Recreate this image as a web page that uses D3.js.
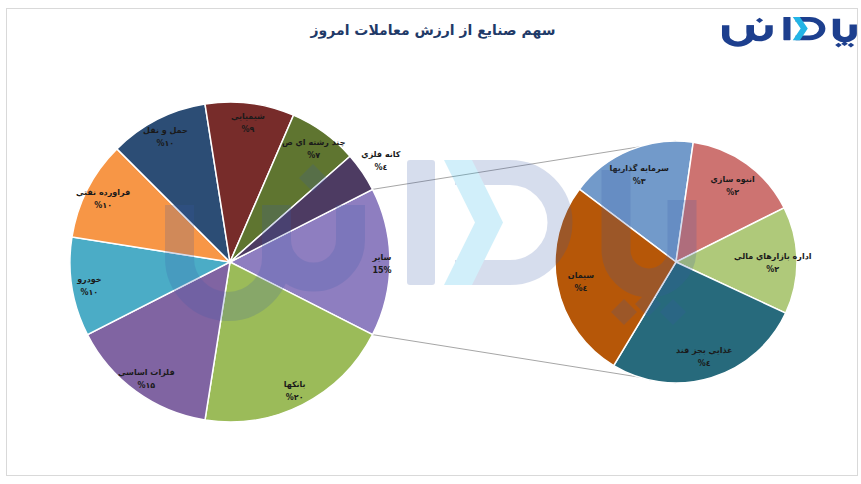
<!DOCTYPE html>
<html><head><meta charset="utf-8">
<script src="https://cdn.jsdelivr.net/npm/d3@7"></script>
<style>html,body{margin:0;padding:0;background:#fff;}svg{display:block;}</style>
</head><body>
<svg id="chart" width="861" height="484"></svg>
<script>
const title = "سهم صنایع از ارزش معاملات امروز";
const leftCategories = ["سایر","بانکها","فلزات اساسي","خودرو","فراورده نفتي","حمل و نقل","شيميايي","چند رشته اي ص","کانه فلزي"];
const leftValues = [15,20,15,10,10,10,9,7,4];
const leftLabels = ["15%","%۲۰","%۱۵","%۱۰","%۱۰","%۱۰","%۹","%۷","%٤"];
const leftColors = ["#8E7EC0","#9BBB59","#8064A2","#4BACC6","#F79646","#2C4D75","#772C2A","#5F7530","#4D3B62"];
const rightCategories = ["سرمايه گذاريها","انبوه سازي","اداره بازارهاي مالي","غذايي بجز قند","سيمان"];
const rightValues = [2.55,2.3,2.15,4.0,4.0];
const rightLabels = ["%۳","%۲","%۲","%٤","%٤"];
const rightColors = ["#729ACA","#CD7371","#AFC97A","#276A7C","#B65708"];

const svg = d3.select("#chart");
const FONT = "'DejaVu Sans', sans-serif";

svg.append("rect").attr("x",6.5).attr("y",8.5).attr("width",851).attr("height",467)
  .attr("fill","#fff").attr("stroke","#d9d9d9").attr("stroke-width",1);

svg.append("text").attr("x",433).attr("y",35).attr("text-anchor","middle")
  .attr("font-family",FONT).attr("font-weight","bold").attr("font-size",14)
  .attr("fill","#1F3A68").text(title);

const L = {cx:230, cy:262, r:160};
const R = {cx:676, cy:262, r:121};
const sumL = d3.sum(leftValues);
const a0 = Math.PI/2 - Math.PI*leftValues[0]/sumL;
const pieL = d3.pie().sort(null).value(d=>d).startAngle(a0).endAngle(a0+2*Math.PI);
const arcsL = pieL(leftValues);
const arcL = d3.arc().innerRadius(0).outerRadius(L.r);

const rot = -53*Math.PI/180;
const pieR = d3.pie().sort(null).value(d=>d).startAngle(rot).endAngle(rot+2*Math.PI);
const arcsR = pieR(rightValues);
const arcR = d3.arc().innerRadius(0).outerRadius(R.r);

const o = arcsL[0];
const p1 = [L.cx + L.r*Math.sin(o.startAngle), L.cy - L.r*Math.cos(o.startAngle)];
const p2 = [L.cx + L.r*Math.sin(o.endAngle), L.cy - L.r*Math.cos(o.endAngle)];
svg.append("line").attr("x1",p1[0]).attr("y1",p1[1]).attr("x2",R.cx).attr("y2",R.cy-R.r)
  .attr("stroke","#a6a6a6").attr("stroke-width",1);
svg.append("line").attr("x1",p2[0]).attr("y1",p2[1]).attr("x2",R.cx).attr("y2",R.cy+R.r)
  .attr("stroke","#a6a6a6").attr("stroke-width",1);

const gL = svg.append("g").attr("transform",`translate(${L.cx},${L.cy})`);
gL.selectAll("path").data(arcsL).join("path").attr("d",arcL)
  .attr("fill",(d,i)=>leftColors[i]).attr("stroke","#fff").attr("stroke-width",1.5);

const gR = svg.append("g").attr("transform",`translate(${R.cx},${R.cy})`);
gR.selectAll("path").data(arcsR).join("path").attr("d",arcR)
  .attr("fill",(d,i)=>rightColors[i]).attr("stroke","#fff").attr("stroke-width",1.5);

function drawLogo(g, main, cyan){
  g.append("path").attr("d","M179.5,205 V258 A48.5,48.5 0 0 0 276.5,258 V205")
    .attr("fill","none").attr("stroke",main).attr("stroke-width",29);
  g.append("path").attr("d","M276.5,205 V240 A37,37 0 0 0 350.5,240 V205")
    .attr("fill","none").attr("stroke",main).attr("stroke-width",29);
  g.append("path").attr("d","M313,164 L327,178 L313,192 L299,178 Z").attr("fill",main);
  g.append("rect").attr("x",407).attr("y",160).attr("width",28).attr("height",125).attr("rx",3).attr("fill",main);
  g.append("path").attr("d","M455,172.5 H510 A50,50 0 0 1 510,272.5 H455")
    .attr("fill","none").attr("stroke",main).attr("stroke-width",25);
  g.append("path").attr("d","M444,160 L472,160 L503,222.5 L472,285 L444,285 L475,222.5 Z").attr("fill",cyan);
  g.append("path").attr("d","M616,170 V250 A33,33 0 0 0 682,250 V200")
    .attr("fill","none").attr("stroke",main).attr("stroke-width",29);
  [[624,312],[648,304],[673,312]].forEach(p=>{
    g.append("path").attr("d",`M${p[0]},${p[1]-13} L${p[0]+13},${p[1]} L${p[0]},${p[1]+13} L${p[0]-13},${p[1]} Z`).attr("fill",main);
  });
}
const wm = svg.append("g").attr("opacity",0.2);
drawLogo(wm, "#3a5aa8", "#1fb5e8");
const logo = svg.append("g").attr("transform","translate(680.1,-12.6) scale(0.2538,0.185)");
drawLogo(logo, "#1d3f8e", "#23b4e6");

function addLabels(g, arcs, cats, labs, rFn){
  const lg = g.append("g").attr("font-family",FONT).attr("font-weight","bold").attr("font-size",8).attr("fill","#1a1a1a").attr("text-anchor","middle");
  arcs.forEach((d,i)=>{
    const m = (d.startAngle+d.endAngle)/2;
    const rr = rFn(d,i);
    const x = rr*Math.sin(m), y = -rr*Math.cos(m);
    lg.append("text").attr("x",x).attr("y",y-2).text(cats[i]);
    lg.append("text").attr("x",x).attr("y",y+11).text(labs[i]);
  });
}
addLabels(gL, arcsL, leftCategories, leftLabels, (d,i)=> d.value<5 ? L.r*1.14 : (i===0 ? L.r*0.95 : L.r*0.89));
addLabels(gR, arcsR, rightCategories, rightLabels, ()=> R.r*0.8);
</script>
</body></html>
